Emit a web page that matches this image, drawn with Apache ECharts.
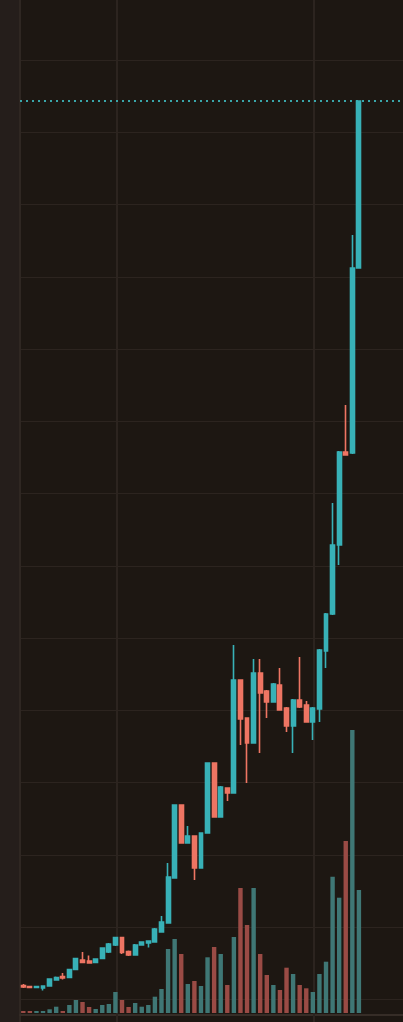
<!DOCTYPE html>
<html>
<head>
<meta charset="utf-8">
<script src="https://cdn.jsdelivr.net/npm/echarts@6/dist/echarts.min.js"></script>
<style>
html,body{margin:0;padding:0;background:#1d1712;}
#c{width:403px;height:1022px;}
</style>
</head>
<body>
<div id="c"></div>
<script>
// ---- data (price units: one grid step = 1000) ----
const opens  = [193.7,179.9,166.0,159.1,186.8,269.8,318.3,304.4,415.1,546.6,532.7,512.0,567.3,657.3,754.1,857.9,664.2,615.7,754.1,781.8,795.6,934.0,1058.5,1681.2,2691.3,2165.5,2262.3,1819.6,2303.9,3272.4,2525.2,2926.5,2857.3,4420.9,3895.1,3549.2,4517.8,4268.7,4116.5,4351.7,4033.5,3784.4,4144.2,4075.0,3839.8,4019.6,4822.2,5334.2,6288.9,7575.8,7561.9,10121.8];
const closes = [173.0,166.0,179.9,186.8,283.7,304.4,297.5,415.1,567.3,512.0,505.1,560.4,712.6,768.0,857.9,650.3,615.7,754.1,795.6,809.5,975.5,1072.4,1695.0,2691.3,2165.5,2262.3,1819.6,2303.9,3272.4,2525.2,2940.4,2857.3,4420.9,3881.3,3549.2,4517.8,4241.0,4116.5,4365.6,4005.8,3784.4,4144.2,4047.3,3839.8,4033.5,4836.0,5334.2,6288.9,7575.8,7534.2,10121.8,12432.5];
const lows   = [159.1,159.1,159.1,124.5,179.9,262.9,276.7,297.5,408.2,505.1,498.1,505.1,560.4,643.4,740.3,629.6,601.9,608.8,747.2,719.5,788.7,927.1,1051.6,1675.0,2160.0,2158.6,1653.5,1815.0,2300.0,2520.0,2520.0,2746.6,2850.0,3521.5,2995.7,3545.0,3410.8,3895.1,4110.0,4000.0,3701.4,3410.8,4033.5,3835.0,3590.7,3839.8,4587.0,5320.3,6012.2,7530.0,7548.1,10115.0];
const highs  = [214.5,186.8,186.8,193.7,290.6,318.3,366.7,422.0,574.2,657.3,608.8,567.3,719.5,781.8,864.8,864.8,678.0,768.0,802.5,816.4,989.3,1155.4,1888.7,2700.0,2700.0,2400.7,2270.0,2310.0,3280.0,3280.0,2954.2,2933.4,4905.2,4425.0,3900.0,4711.5,4711.5,4282.5,4379.4,4587.0,4047.3,4158.0,4739.2,4130.3,4047.3,4849.9,5348.0,6870.1,7589.6,8226.1,10578.4,12440.0];
const volumes = [20,20,20,20,37,63,20,80,130,110,60,40,80,90,210,130,60,100,63,80,163,240,640,740,590,290,320,270,557,660,590,280,760,1250,880,1250,590,380,280,230,453,390,280,247,210,390,513,1363,1153,1720,2830,1230];
// vertical time-grid lines, in candle-index units
const timeGridLines = [14.24, 44.07];

const UP = '#38b1b7', DOWN = '#ee7563';
const UP_VOL = '#3f7775', DOWN_VOL = '#9a4b45';
const GRID = '#2c241f';

const candleData = opens.map((o, i) => [i, o, closes[i], lows[i], highs[i]]);
const volData = volumes.map((v, i) => ({
  value: [i, v],
  itemStyle: { color: closes[i] >= opens[i] ? UP_VOL : DOWN_VOL }
}));
const xMin = -0.5, xMax = 57.7;

const chart = echarts.init(document.getElementById('c'), null, { renderer: 'canvas' });
chart.setOption({
  backgroundColor: '#1d1712',
  animation: false,
  graphic: [{ type: 'rect', left: 0, top: 0, shape: { width: 19, height: 1022 }, style: { fill: '#251e1b' }, z: -1 }],
  grid: [
    { left: 20, right: 0, top: -12.3, bottom: -49.8, outerBoundsMode: 'none', containLabel: false },
    { left: 20, right: 0, top: 713, bottom: 9, outerBoundsMode: 'none', containLabel: false }
  ],
  xAxis: [
    { type: 'value', gridIndex: 0, min: xMin, max: xMax, show: true,
      axisLine: { show: false, onZero: false }, axisTick: { show: false }, axisLabel: { show: false }, splitLine: { show: false } },
    { type: 'value', gridIndex: 1, min: xMin, max: xMax, show: true, offset: 2,
      axisLine: { show: true, onZero: false, lineStyle: { color: '#362d27', width: 2 } },
      axisTick: { show: false }, axisLabel: { show: false }, splitLine: { show: false } }
  ],
  yAxis: [
    { type: 'value', gridIndex: 0, min: -1000, max: 14000, interval: 1000, position: 'left',
      axisLine: { show: true, onZero: false, lineStyle: { color: '#2f2722', width: 2 } },
      axisTick: { show: false }, axisLabel: { show: false },
      splitLine: { show: true, lineStyle: { color: GRID, width: 1 } } },
    { type: 'value', gridIndex: 1, min: 0, max: 3000, show: false,
      axisLine: { onZero: false }, splitLine: { show: false } }
  ],
  series: [
    {
      type: 'bar', xAxisIndex: 1, yAxisIndex: 1, data: volData, barWidth: 4.4, z: 1
    },
    {
      type: 'candlestick', xAxisIndex: 0, yAxisIndex: 0, data: candleData,
      barWidth: 4.4, z: 3,
      itemStyle: { color: UP, color0: DOWN, borderColor: UP, borderColor0: DOWN, borderWidth: 1.6 },
      markLine: {
        silent: true, symbol: 'none', z: 1, animation: false,
        label: { show: false },
        data: [
          ...timeGridLines.map(v => ({ xAxis: v, lineStyle: { color: GRID, width: 2, type: 'solid' } })),
          { yAxis: closes[closes.length - 1], lineStyle: { color: '#3aa6aa', width: 2, type: [2, 4] } }
        ]
      }
    }
  ]
});
</script>
</body>
</html>
